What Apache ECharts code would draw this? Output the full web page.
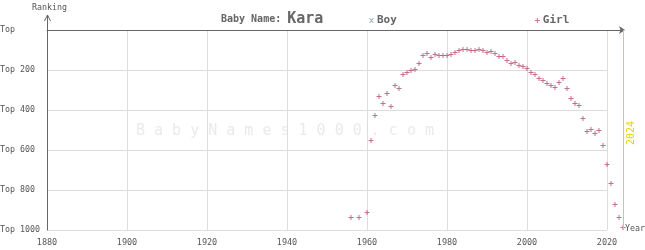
<!DOCTYPE html>
<html>
<head>
<meta charset="utf-8">
<script src="https://cdn.jsdelivr.net/npm/echarts@6/dist/echarts.min.js"></script>
<style>
  html, body { margin: 0; padding: 0; background: #fff; }
  #chart { width: 645px; height: 250px; }
</style>
</head>
<body>
<div id="chart"></div>
<script>
// girl ranks for Kara
const years = [1956, 1958, 1960, 1961, 1962, 1963, 1964, 1965, 1966, 1967, 1968, 1969,
  1970, 1971, 1972, 1973, 1974, 1975, 1976, 1977, 1978, 1979,
  1980, 1981, 1982, 1983, 1984, 1985, 1986, 1987, 1988, 1989,
  1990, 1991, 1992, 1993, 1994, 1995, 1996, 1997, 1998, 1999,
  2000, 2001, 2002, 2003, 2004, 2005, 2006, 2007, 2008, 2009,
  2010, 2011, 2012, 2013, 2014, 2015, 2016, 2017, 2018, 2019,
  2020, 2021, 2022, 2023, 2024];
const girlRanks = [937, 937, 912, 552, 427, 332, 367, 317, 382, 277, 292, 222,
  212, 202, 197, 167, 127, 117, 137, 122, 127, 127,
  127, 122, 112, 102, 97, 97, 102, 102, 97, 102,
  112, 107, 117, 132, 132, 152, 167, 162, 177, 182,
  192, 212, 222, 242, 252, 267, 277, 287, 262, 242,
  292, 342, 367, 377, 442, 507, 497, 517, 502, 577,
  672, 767, 872, 937, 987];
const boyRanks = [];
const xTicks = [1880, 1900, 1920, 1940, 1960, 1980, 2000, 2020];
const yTicks = [0, 200, 400, 600, 800, 1000];
const currentYear = 2024;

const FONT = '"DejaVu Sans Mono", monospace';
const plusPath = 'path://M2,0H3V2H5V3H3V5H2V3H0V2H2Z';
const xPath = 'path://M0,0L1,0L2.5,1.5L4,0L5,0L3,2.5L5,5L4,5L2.5,3.5L1,5L0,5L2,2.5Z';

const chart = echarts.init(document.getElementById('chart'), null, { renderer: 'canvas' });

chart.setOption({
  animation: false,
  title: {
    text: '{a|Baby Name: }{b|Kara}',
    left: 216, top: 7,
    textStyle: {
      rich: {
        a: { fontFamily: FONT, fontSize: 10, fontWeight: 'bold', color: '#666' },
        b: { fontFamily: FONT, fontSize: 15, color: '#666' }
      }
    }
  },
  legend: {
    left: 364, top: 10,
    itemGap: 138, itemWidth: 5, itemHeight: 5,
    textStyle: { fontFamily: FONT, fontSize: 11, fontWeight: 'bold', color: '#666', padding: [0, 0, 0, -2] },
    data: [
      { name: 'Boy', icon: xPath, itemStyle: { color: '#8a9bb0' } },
      { name: 'Girl', icon: plusPath, itemStyle: { color: '#c0507c' } }
    ]
  },
  grid: [
    { left: 47, top: 30, width: 576, height: 200, containLabel: false, outerBoundsMode: 'none' },
    { left: 47, top: 30, width: 560, height: 200, containLabel: false, outerBoundsMode: 'none' }
  ],
  xAxis: [
    {
      gridIndex: 0, type: 'value', min: 1880, max: currentYear, interval: 20,
      axisLine: { lineStyle: { color: '#666', width: 1 }, symbol: ['none', 'arrow'], symbolSize: [6, 6], symbolOffset: [0, 2] },
      axisTick: { show: false },
      axisLabel: {
        fontFamily: FONT, fontSize: 8.5, color: '#555', margin: 8,
        formatter: v => (xTicks.indexOf(v) >= 0 ? String(v) : ''),
        showMaxLabel: false
      },
      splitLine: { show: true, showMaxLine: false, lineStyle: { color: '#ddd', width: 1 } }
    },
    { gridIndex: 1, type: 'value', min: 1880, max: 2020, show: false }
  ],
  yAxis: [
    {
      gridIndex: 0, type: 'value', inverse: true, min: 0, max: 1000, interval: 200,
      axisLine: { show: true, lineStyle: { color: '#666', width: 1 } },
      axisTick: { show: false },
      axisLabel: {
        fontFamily: FONT, fontSize: 8.3, color: '#555', margin: 47, align: 'left',
        formatter: v => (yTicks.indexOf(v) < 0 ? '' : (v === 0 ? 'Top' : 'Top ' + v))
      },
      splitLine: { show: false }
    },
    {
      gridIndex: 1, type: 'value', inverse: true, min: 0, max: 1000, interval: 200,
      axisLine: { show: false }, axisTick: { show: false }, axisLabel: { show: false },
      splitLine: { show: true, lineStyle: { color: '#ddd', width: 1 } }
    }
  ],
  graphic: [
    {
      type: 'text', left: 136, top: 124, silent: true, z: 0,
      style: { text: 'B a b y N a m e s 1 0 0 0 . c o m', font: '15px ' + FONT, fill: '#eaeaea' }
    },
    { type: 'line', shape: { x1: 47.5, y1: 30, x2: 47.5, y2: 15 }, style: { stroke: '#666', lineWidth: 1 } },
    { type: 'polyline', shape: { points: [[44.5, 21], [47.5, 15], [50.5, 21]] }, style: { stroke: '#666', lineWidth: 1, fill: null } },
    { type: 'text', left: 32, top: 4, style: { text: 'Ranking', font: '8.3px ' + FONT, fill: '#555' } },
    { type: 'text', left: 625, top: 225, style: { text: 'Year', font: '8.3px ' + FONT, fill: '#555' } },
    {
      type: 'text', x: 626, y: 145, rotation: Math.PI / 2,
      style: { text: String(currentYear), font: '10px ' + FONT, fill: '#f0d000' }
    }
  ],
  series: [
    {
      name: 'Boy', type: 'scatter', xAxisIndex: 0, yAxisIndex: 0,
      symbol: xPath, symbolSize: 5, itemStyle: { color: '#8a9bb0' },
      data: boyRanks
    },
    {
      name: 'Girl', type: 'scatter', xAxisIndex: 0, yAxisIndex: 0, clip: false,
      symbol: plusPath, symbolSize: 5, itemStyle: { color: '#b8486f' },
      data: years.map((y, i) => [y, girlRanks[i]]),
      markLine: {
        silent: true, symbol: 'none', label: { show: false },
        lineStyle: { color: '#f0d000', type: 'solid', width: 1 },
        data: [{ xAxis: currentYear }]
      }
    }
  ]
});
</script>
</body>
</html>
